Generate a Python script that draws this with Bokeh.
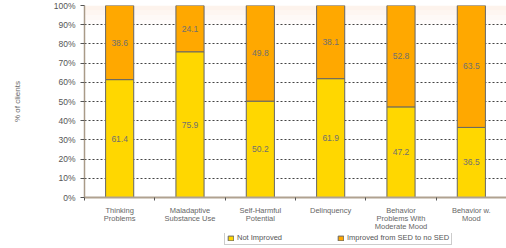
from bokeh.plotting import figure
from bokeh.models import (ColumnDataSource, FixedTicker, Range1d, Legend, LegendItem,
                          CustomJSTickFormatter)
from bokeh.layouts import column
from bokeh.embed import file_html
from bokeh.resources import INLINE
from bokeh.core.properties import value

categories = ["Thinking\nProblems", "Maladaptive\nSubstance Use", "Self-Harmful\nPotential",
              "Delinquency", "Behavior\nProblems With\nModerate Mood", "Behavior w.\nMood"]
not_improved = [61.4, 75.9, 50.2, 61.9, 47.2, 36.5]
improved = [38.6, 24.1, 49.8, 38.1, 52.8, 63.5]
series_names = ["Not Improved", "Improved from SED to no SED"]
y_ticks = [0, 10, 20, 30, 40, 50, 60, 70, 80, 90, 100]

FONT = "Liberation Sans"
YELLOW = "#FFD700"
ORANGE = "#FFA800"
n = len(categories)
xs = [i + 0.5 for i in range(n)]
tops = [a + b for a, b in zip(not_improved, improved)]

src = ColumnDataSource(dict(
    x=xs, ni=not_improved, im=improved, top=tops,
    ni_mid=[v / 2 for v in not_improved],
    im_mid=[a + b / 2 for a, b in zip(not_improved, improved)],
    ni_lab=[f"{v:.1f}" for v in not_improved],
    im_lab=[f"{v:.1f}" for v in improved],
))

p = figure(frame_width=422, frame_height=192, output_backend="svg", toolbar_location=None,
           x_range=Range1d(0, n), y_range=Range1d(0, 100),
           min_border_left=84, min_border_right=0, min_border_top=5,
           min_border_bottom=0)
p.outline_line_color = None
p.background_fill_color = "white"
p.border_fill_color = "white"

# light top gradient
for k, a in enumerate([0.22, 0.16, 0.10, 0.05]):
    p.quad(left=[0], right=[n], bottom=[100 - 2.5 * (k + 1)], top=[100 - 2.5 * k],
           fill_color="#f7c9a8", fill_alpha=a, line_color=None, level="underlay")

p.xgrid.grid_line_color = None
p.ygrid.ticker = FixedTicker(ticks=y_ticks[1:])
p.ygrid.grid_line_color = "#444444"
p.ygrid.grid_line_dash = "2 2"
p.ygrid.grid_line_width = 1

w = 0.4
p.vbar(x="x", bottom=0, top="ni", width=w, source=src,
       fill_color=YELLOW, line_color="#666666", line_width=1)
p.vbar(x="x", bottom="ni", top="top", width=w, source=src,
       fill_color=ORANGE, line_color="#666666", line_width=1)

for ycol, tcol in [("ni_mid", "ni_lab"), ("im_mid", "im_lab")]:
    p.text(x="x", y=ycol, text=tcol, source=src, text_align="center",
           text_baseline="middle", text_font=value(FONT), text_font_size="8.5px",
           text_color="#707070")

# axes
p.yaxis.ticker = FixedTicker(ticks=y_ticks)
p.yaxis.formatter = CustomJSTickFormatter(code="return tick.toFixed(0) + '%'")
p.yaxis.major_label_text_font = FONT
p.yaxis.major_label_text_font_size = "8.5px"
p.yaxis.major_label_text_color = "#555555"
p.yaxis.axis_line_color = "#a89a88"
p.yaxis.axis_line_width = 1.5
p.yaxis.major_tick_line_color = "#555555"
p.yaxis.major_tick_in = 0
p.yaxis.major_tick_out = 4
p.yaxis.minor_tick_line_color = None
p.yaxis.axis_label = "% of clients"
p.yaxis.axis_label_text_font = FONT
p.yaxis.axis_label_text_font_size = "8px"
p.yaxis.axis_label_text_font_style = "normal"
p.yaxis.axis_label_text_color = "#666666"
p.yaxis.axis_label_standoff = 29

p.xaxis.ticker = FixedTicker(ticks=xs, minor_ticks=list(range(n + 1)))
p.xaxis.major_label_overrides = {x: c for x, c in zip(xs, categories)}
p.xaxis.major_label_text_font = FONT
p.xaxis.major_label_text_font_size = "7.5px"
p.xaxis.major_label_text_color = "#666666"
p.xaxis.major_label_text_line_height = 0.9
p.xaxis.major_tick_line_color = None
p.xaxis.minor_tick_line_color = "#555555"
p.xaxis.minor_tick_in = 0
p.xaxis.minor_tick_out = 3
p.xaxis.axis_line_color = "#b0a290"
p.xaxis.axis_line_width = 2
p.xaxis.major_label_standoff = 2
p.xaxis.axis_label_standoff = 0

# legend strip below the chart
p2 = figure(width=506, height=12, output_backend="svg", toolbar_location=None,
            x_range=Range1d(0, 1), y_range=Range1d(0, 1),
            min_border_left=0, min_border_right=0, min_border_top=0, min_border_bottom=0)
p2.axis.visible = False
p2.grid.grid_line_color = None
p2.outline_line_color = None
l1 = p2.vbar(x="x", bottom=0, top="ni", width=w, source=src, visible=False,
             fill_color=YELLOW, line_color="#666666", line_width=1)
l2 = p2.vbar(x="x", bottom="ni", top="top", width=w, source=src, visible=False,
             fill_color=ORANGE, line_color="#666666", line_width=1)
legend = Legend(items=[LegendItem(label=series_names[0], renderers=[l1]),
                       LegendItem(label=series_names[1], renderers=[l2])],
                orientation="horizontal", location=(140, 0),
                label_text_font=FONT, label_text_font_size="7.5px",
                label_text_color="#555555", glyph_width=7, glyph_height=6,
                label_standoff=3, spacing=55, padding=2, margin=0,
                border_line_color="#999999", border_line_width=1,
                label_height=8, background_fill_color="white",
                inactive_fill_alpha=0)
p2.add_layout(legend, "center")

open("out.html", "w").write(file_html(column(p, p2, spacing=0), INLINE))
